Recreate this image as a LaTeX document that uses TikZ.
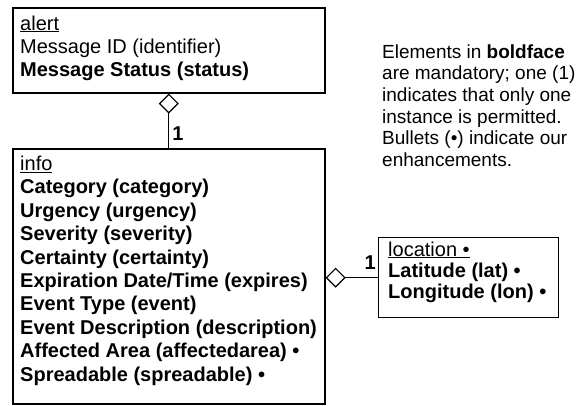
\documentclass[tikz,border=0pt]{standalone}
\usepackage{fontspec}
\setmainfont{Liberation Sans}
\usetikzlibrary{arrows.meta}
\begin{document}
\begin{tikzpicture}[x=1pt,y=-1pt,
  box/.style={draw=black,line width=1.6pt,rectangle,inner sep=0pt,anchor=north west},
  lbox/.style={draw=black,line width=1.3pt,rectangle,inner sep=0pt,anchor=north west},
  txt/.style={inner sep=0pt,anchor=base west,align=left,font=\fontsize{20}{23.4}\selectfont},
  ltxt/.style={inner sep=0pt,anchor=base west,align=left,font=\fontsize{20}{21.3}\selectfont},
  note/.style={inner sep=0pt,anchor=base west,align=left,font=\fontsize{19}{21.7}\selectfont},
  one/.style={inner sep=0pt,anchor=base west,font=\fontsize{20}{23}\selectfont\bfseries},
  agg/.style={line width=1.2pt,{Diamond[open,fill=white,length=20pt,width=20pt,line width=1.2pt]}-}
]
\useasboundingbox (0,0) rectangle (587,405);
\node[box,minimum width=312pt,minimum height=85pt] (alert) at (12,7) {};
\node[box,minimum width=312pt,minimum height=255pt] (info) at (12,148) {};
\node[lbox,minimum width=180pt,minimum height=80pt] (location) at (378,237) {};
\node[txt] (alerttext) at (20,76.8) {\underline{alert}\\Message ID (identifier)\\\textbf{Message Status (status)}};
\node[txt] (infotext) at (20,381.1) {\underline{info}\\\textbf{Category (category)}\\\textbf{Urgency (urgency)}\\\textbf{Severity (severity)}\\\textbf{Certainty (certainty)}\\\textbf{Expiration Date/Time (expires)}\\\textbf{Event Type (event)}\\\textbf{Event Description (description)}\\\textbf{Affected Area (affectedarea) •}\\\textbf{Spreadable (spreadable) •}};
\node[ltxt] (loctext) at (388,298.6) {\underline{location •}\\\textbf{Latitude (lat) •}\\\textbf{Longitude (lon) •}};
\node[note] (legend) at (382,166.5) {Elements in \textbf{boldface}\\are mandatory; one (1)\\indicates that only one\\instance is permitted.\\Bullets (•) indicate our\\enhancements.};
\draw[agg] (alert.south) -- (info.north) node[one,at end,xshift=3pt,yshift=8pt] (one1) {1};
\draw[agg] (info.east |- location.west) -- (location.west) node[one,at end,xshift=-14pt,yshift=8pt] (one2) {1};
\end{tikzpicture}
\end{document}
